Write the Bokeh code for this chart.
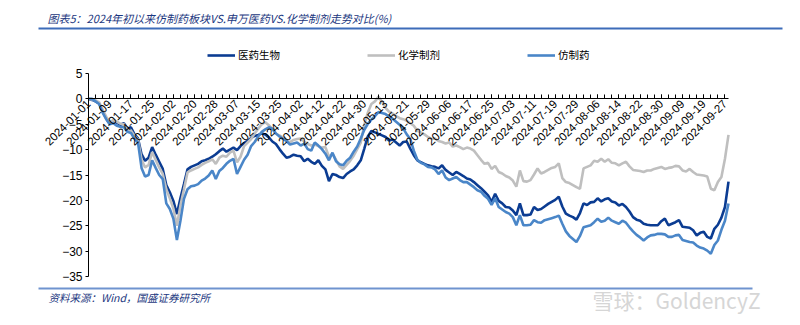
import math
from bokeh.plotting import figure
from bokeh.models import (FixedTicker, Label, Legend, LegendItem, BoxAnnotation, Range1d)
from bokeh.embed import file_html
from bokeh.resources import INLINE

tick_labels = ["2024-01-01", "2024-01-09", "2024-01-17", "2024-01-25", "2024-02-02", "2024-02-20",
               "2024-02-28", "2024-03-07", "2024-03-15", "2024-03-25", "2024-04-02", "2024-04-12",
               "2024-04-22", "2024-04-30", "2024-05-13", "2024-05-21", "2024-05-29", "2024-06-06",
               "2024-06-17", "2024-06-25", "2024-07-03", "2024-07-11", "2024-07-19", "2024-07-29",
               "2024-08-06", "2024-08-14", "2024-08-22", "2024-08-30", "2024-09-09", "2024-09-19",
               "2024-09-27"]
label_step = 6

yiyao = [0, -0.2, -0.5, -0.9, -2.4, -3.8, -4.9, -4.3, -4.7, -5.1,
         -4.8, -5.9, -5.6, -7.0, -7.8, -10.9, -12.2, -11.6, -9.5, -11.0,
         -12.4, -13.8, -17.0, -18.4, -20.1, -22.7, -19.6, -16.8, -13.9, -13.4,
         -13.1, -12.8, -12.3, -12.1, -11.8, -11.4, -10.9, -10.3, -9.8, -10.4,
         -10.0, -9.6, -10.1, -9.3, -8.7, -8.3, -7.7, -7.3, -7.1, -6.8,
         -7.0, -7.6, -8.4, -8.9, -9.9, -10.8, -11.6, -11.4, -11.0, -11.2,
         -11.3, -12.3, -11.8, -12.4, -12.8, -12.1, -13.2, -13.9, -16.2, -14.8,
         -15.0, -15.4, -15.6, -14.8, -14.3, -13.9, -13.1, -12.1, -9.8, -7.4,
         -6.3, -6.6, -6.9, -7.2, -7.5, -8.2, -8.0, -8.6, -9.2, -8.5,
         -8.4, -9.8, -11.1, -12.1, -12.5, -12.8, -13.1, -13.3, -13.4, -13.7,
         -13.1, -14.0, -14.5, -15.0, -14.4, -14.8, -15.2, -15.7, -15.9, -16.4,
         -17.0, -17.6, -18.3, -19.0, -20.3, -18.7, -20.1, -20.6, -21.3, -21.4,
         -22.0, -22.9, -20.6, -22.9, -22.9, -22.8, -21.3, -21.9, -21.7, -21.2,
         -20.7, -20.3, -19.9, -19.3, -21.2, -22.6, -23.0, -23.3, -23.8, -22.5,
         -20.6, -20.9, -20.4, -20.3, -19.6, -20.2, -19.8, -19.6, -20.2, -20.4,
         -21.0, -20.7, -21.3, -22.2, -23.3, -23.8, -24.0, -24.6, -24.8, -24.9,
         -24.9, -24.9, -24.1, -23.6, -24.9, -24.6, -24.3, -23.9, -25.2, -25.3,
         -25.4, -25.9, -26.9, -26.4, -26.2, -27.2, -27.5, -25.6, -24.8, -23.4,
         -21.3, -16.3]

huaxue = [0, -0.1, -0.3, -0.7, -2.1, -3.5, -4.6, -4.2, -4.5, -4.9,
          -5.0, -6.0, -6.2, -7.3, -8.0, -12.0, -13.5, -13.0, -10.5, -12.0,
          -13.5, -14.8, -17.8, -19.6, -21.6, -25.0, -21.0, -17.8, -14.5, -14.1,
          -13.8, -13.5, -13.0, -12.6, -12.3, -11.9, -12.8, -11.6, -11.2, -11.4,
          -10.6, -10.2, -12.5, -11.4, -9.3, -8.6, -7.9, -6.8, -5.9, -5.0,
          -4.6, -5.2, -5.9, -6.9, -7.2, -7.6, -8.4, -8.5, -8.1, -7.9,
          -7.8, -8.4, -8.9, -9.2, -9.0, -9.3, -9.6, -9.5, -11.4, -10.8,
          -12.0, -13.3, -13.8, -13.0, -12.2, -11.2, -9.9, -8.6, -5.1, -2.7,
          -1.0, -0.5, 0.4, -0.6, -1.8, -2.5, -2.9, -3.4, -3.8, -4.0,
          -4.3, -4.8, -5.3, -6.3, -6.6, -7.0, -7.5, -7.9, -7.8, -8.3,
          -8.5, -8.8, -8.6, -9.4, -9.2, -9.5, -9.9, -9.6, -9.8, -10.2,
          -11.1, -12.0, -12.8, -12.6, -13.8, -13.2, -14.4, -14.7, -15.2, -15.5,
          -16.1, -17.3, -14.1, -16.2, -16.3, -16.0, -14.9, -13.7, -14.7, -14.4,
          -14.0, -13.6, -13.4, -12.7, -15.6, -16.4, -16.6, -17.0, -17.4, -17.7,
          -13.7, -13.4, -13.1, -12.2, -12.4, -11.8, -12.4, -11.9, -12.6, -12.7,
          -13.1, -12.7, -12.4, -13.3, -14.0, -14.1, -14.2, -14.4, -14.1, -14.1,
          -13.8, -13.6, -13.4, -13.8, -13.6, -13.5, -13.2, -13.3, -14.1, -14.3,
          -13.8, -14.4, -14.9, -15.0, -15.1, -15.3, -17.7, -18.0, -16.4, -15.4,
          -11.8, -7.1]

fangzhi = [0, 0, -0.5, -1.0, -2.7, -4.0, -5.0, -4.8, -5.3, -5.5,
           -5.6, -6.5, -6.7, -7.9, -8.6, -13.6, -15.3, -15.0, -12.1, -13.6,
           -15.0, -15.8, -20.6, -21.7, -23.6, -27.8, -24.0, -19.7, -17.8, -17.2,
           -17.1, -16.8, -16.1, -15.7, -15.1, -14.1, -15.8, -14.2, -13.6, -12.8,
           -12.2, -11.8, -14.8, -13.4, -12.0, -11.0, -9.3, -8.5, -7.4, -6.5,
           -6.0, -5.6, -5.9, -6.8, -7.4, -7.9, -8.3, -9.0, -8.8, -8.6,
           -9.2, -8.8, -9.9, -10.2, -8.6, -9.2, -9.9, -10.8, -12.1, -10.6,
           -12.3, -12.9, -13.1, -12.2, -11.6, -10.4, -9.4, -7.8, -6.1, -4.9,
           -4.1, -3.4, -2.6, -2.8, -3.0, -3.5, -3.9, -4.5, -5.1, -5.8,
           -7.0, -7.9, -10.2, -12.0, -12.6, -12.9, -13.4, -13.5, -13.9, -14.8,
           -14.1, -15.5, -16.0, -15.7, -15.4, -16.0, -16.4, -16.4, -16.9, -17.4,
           -18.0, -18.3, -19.1, -19.7, -20.9, -19.6, -21.3, -21.8, -22.3, -22.6,
           -23.3, -24.9, -22.9, -24.9, -24.9, -24.8, -23.9, -24.3, -24.4, -23.9,
           -23.7, -23.5, -23.3, -23.0, -24.6, -26.1, -27.0, -27.6, -28.2, -27.0,
           -25.3, -25.1, -24.9, -24.3, -23.6, -24.2, -24.0, -23.4, -24.0, -24.3,
           -24.6, -24.0, -24.4, -25.3, -26.1, -26.8, -27.3, -27.9, -27.3, -26.9,
           -26.8, -26.6, -26.6, -26.7, -27.2, -27.2, -26.9, -26.8, -27.8, -28.0,
           -28.2, -28.3, -28.9, -29.3, -29.5, -29.9, -30.5, -28.8, -27.9, -25.8,
           -24.0, -20.6]

series_names = ["医药生物", "化学制剂", "仿制药"]
series_colors = ["#0B3C92", "#BFBFBF", "#4A86C8"]
y_ticks = [-35, -30, -25, -20, -15, -10, -5, 0, 5]

n = len(yiyao)
xs = list(range(n))

# plot-area geometry in canvas pixels (frame covers the whole canvas)
W, H = 800, 325
AX_L, AX_R = 88, 728      # x of first / last data point
AX_T, AX_B = 73, 276      # y of 5 / -35
ppx = (AX_R - AX_L) / (n - 1)
ppy = (AX_B - AX_T) / (y_ticks[-1] - y_ticks[0])
x_range = Range1d(-AX_L / ppx, (n - 1) + (W - AX_R) / ppx)
y_range = Range1d(y_ticks[0] - (H - AX_B) / ppy, y_ticks[-1] + AX_T / ppy)

p = figure(width=W, height=H, output_backend="svg", toolbar_location=None,
           x_range=x_range, y_range=y_range,
           min_border_left=0, min_border_right=0, min_border_top=0, min_border_bottom=0)
p.outline_line_color = None
p.xgrid.visible = False
p.ygrid.visible = False
p.background_fill_color = "white"
p.border_fill_color = "white"

renderers = []
for vals, col in zip([yiyao, huaxue, fangzhi], series_colors):
    r = p.line(xs, vals, line_color=col, line_width=2.6)
    renderers.append(r)

# x axis crossing at y=0
xa = p.xaxis[0]
xa.fixed_location = 0
xa.bounds = (0, n - 1)
major = [i * label_step for i in range(len(tick_labels))]
xa.ticker = FixedTicker(ticks=major, minor_ticks=list(range(0, n, 2)))
xa.major_label_overrides = {m: lab for m, lab in zip(major, tick_labels)}
xa.major_label_orientation = math.pi / 4
xa.major_tick_in = 4
xa.major_tick_out = 0
xa.minor_tick_in = 4
xa.minor_tick_out = 0
xa.major_label_standoff = 3
xa.major_label_text_font = "Liberation Sans"
xa.major_label_text_font_size = "11.5px"
xa.major_label_text_color = "black"
xa.axis_line_color = "black"
xa.major_tick_line_color = "black"
xa.minor_tick_line_color = "black"

ya = p.yaxis[0]
ya.fixed_location = 0
ya.bounds = (y_ticks[0], y_ticks[-1])
ya.ticker = FixedTicker(ticks=y_ticks, minor_ticks=[])
ya.major_tick_in = 0
ya.major_tick_out = 3
ya.minor_tick_in = 0
ya.minor_tick_out = 0
ya.major_label_standoff = 3
ya.major_label_text_font = "Liberation Sans"
ya.major_label_text_font_size = "12px"
ya.major_label_text_color = "black"
ya.axis_line_color = "black"


def sy(cy):
    return H - cy


# legend
legend = Legend(items=[LegendItem(label=nm, renderers=[r]) for nm, r in zip(series_names, renderers)],
                orientation="horizontal", location=(207, sy(62)),
                glyph_width=28, glyph_height=12, label_width=100, label_standoff=3,
                spacing=29, padding=0, margin=0, border_line_color=None,
                background_fill_alpha=0, label_text_font="Noto Sans CJK SC",
                label_text_font_size="10.5px", label_text_color="black")
p.add_layout(legend)

# title, rules, footer
title_color = "#1B3780"
p.add_layout(Label(x=47, y=sy(17), x_units="screen", y_units="screen",
                   text="图表5：2024年初以来仿制药板块VS.申万医药VS.化学制剂走势对比(%)",
                   text_font="Noto Sans CJK SC", text_font_size="11px", text_font_style="italic",
                   text_color=title_color, text_baseline="middle", text_align="left"))
p.add_layout(BoxAnnotation(left=38, right=782, top=sy(27), bottom=sy(29),
                           left_units="screen", right_units="screen", top_units="screen",
                           bottom_units="screen", fill_color="#3D6CB9", fill_alpha=1,
                           line_color=None))
p.add_layout(BoxAnnotation(left=38, right=752, top=sy(287), bottom=sy(289),
                           left_units="screen", right_units="screen", top_units="screen",
                           bottom_units="screen", fill_color="#6F93CF", fill_alpha=1,
                           line_color=None))
p.add_layout(Label(x=48, y=sy(297), x_units="screen", y_units="screen",
                   text="资料来源：Wind，国盛证券研究所",
                   text_font="Noto Sans CJK SC", text_font_size="10.5px", text_font_style="italic",
                   text_color=title_color, text_baseline="middle", text_align="left"))
p.add_layout(Label(x=592, y=sy(299), x_units="screen", y_units="screen",
                   text="雪球：GoldencyZ",
                   text_font="Noto Sans CJK SC", text_font_size="21px",
                   text_color="#D6D6D6", text_baseline="middle", text_align="left"))

open("out.html", "w").write(file_html(p, INLINE))
